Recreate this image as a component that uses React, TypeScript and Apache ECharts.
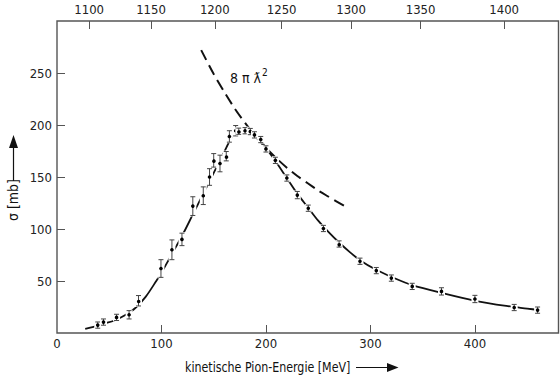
import React, { useEffect, useRef } from "react";
import * as echarts from "echarts";

// Measured cross-section data: kinetic pion energy [MeV], sigma [mb], error [mb]
const energies = [39, 44.5, 57, 69, 78, 99.5, 110, 119.6, 130, 140, 146, 150, 156, 162, 165, 171, 174, 180, 185, 189, 195, 200, 209, 220, 230, 240.5, 255, 270, 290, 305.6, 320, 340, 368, 400, 437.6, 460];
const sigmas = [7.6, 10.5, 15, 17.5, 31, 62, 80, 90, 122, 132, 150, 166, 163, 170, 189, 194.5, 194, 194.5, 193.7, 190.5, 186, 177, 166, 149, 132.6, 120, 100.5, 85.6, 69, 60, 52.8, 44.8, 40, 32.7, 24.5, 22];
const errors = [3, 3, 3, 4, 5, 8.5, 9.5, 6, 9, 8.5, 8, 6.5, 8, 4.5, 5.5, 5, 3, 3, 3, 3, 3, 3, 3, 3, 3.5, 3, 3, 3, 3, 3, 3, 3, 3.5, 3.5, 3, 3];

// Fitted curve (solid line)
const fitT = [27, 35, 45, 55, 65, 75, 85, 95, 100, 110, 120, 130, 140, 150, 160, 166, 170, 175, 182, 188, 195, 200, 210, 220, 230, 240, 250, 260, 270, 280, 290, 305, 320, 340, 370, 400, 430, 450, 462];
const fitS = [4, 6, 9, 12, 17, 24, 35, 50, 58, 76, 94, 114, 134, 154, 174, 186, 192, 195, 195, 192, 185, 178, 164, 149, 134, 121, 108, 97, 87, 78, 70, 61, 54, 46, 38, 31, 26, 23.5, 22];

// 8 pi lambda-bar^2 curve (dashed)
const limitT = [138, 150, 160, 170, 180, 190, 200, 210, 220, 230, 240, 250, 260, 277];
const limitS = [272, 249, 232, 216, 202, 189, 178, 168, 159, 151, 144, 137, 131, 121];

// Axis ticks
const xTicks = [0, 100, 200, 300, 400];
const yTicks = [50, 100, 150, 200, 250];
const topTickPos = [30.8, 90, 151, 215, 281.5, 348, 428];
const topTickLabels = ["1100", "1150", "1200", "1250", "1300", "1350", "1400"];

const FONT = "'Liberation Sans Narrow', 'DejaVu Sans Condensed', 'Open Sans', sans-serif";

export default function App() {
  const ref = useRef<HTMLDivElement>(null);

  useEffect(() => {
    if (!ref.current) return;
    const chart = echarts.init(ref.current, null, { renderer: "svg" });

    const errData = energies.map((t, i) => [t, sigmas[i], errors[i]]);
    const fitData = fitT.map((t, i) => [t, fitS[i]]);
    const limitData = limitT.map((t, i) => [t, limitS[i]]);

    const labelStyle = { color: "#222", fontSize: 13, fontFamily: FONT };

    chart.setOption({
      animation: false,
      backgroundColor: "#fff",
      grid: {
        left: 57,
        right: 1.5,
        top: 21,
        bottom: 43,
        show: true,
        borderColor: "#555",
        borderWidth: 1.4,
        backgroundColor: "transparent",
      },
      xAxis: [
        {
          type: "value",
          position: "bottom",
          min: 0,
          max: 480,
          axisLine: { show: false },
          splitLine: { show: false },
          axisTick: { inside: true, length: 8, lineStyle: { color: "#555" }, customValues: [100, 200, 300, 400] },
          axisLabel: { ...labelStyle, margin: 4, customValues: xTicks },
        },
        {
          type: "value",
          position: "top",
          min: 0,
          max: 480,
          axisLine: { show: false },
          splitLine: { show: false },
          axisTick: { inside: true, length: 8, lineStyle: { color: "#555" }, customValues: topTickPos },
          axisLabel: {
            ...labelStyle,
            margin: 5,
            customValues: topTickPos,
            formatter: (v: number) => {
              let best = 0;
              for (let i = 1; i < topTickPos.length; i++) {
                if (Math.abs(topTickPos[i] - v) < Math.abs(topTickPos[best] - v)) best = i;
              }
              return topTickLabels[best];
            },
          },
        },
      ],
      yAxis: [
        {
          type: "value",
          min: 0,
          max: 300,
          axisLine: { show: false },
          splitLine: { show: false },
          axisTick: { inside: true, length: 8, lineStyle: { color: "#555" }, customValues: yTicks },
          axisLabel: { ...labelStyle, margin: 5, customValues: yTicks },
        },
      ],
      series: [
        {
          type: "line",
          data: fitData,
          smooth: 0.3,
          symbol: "none",
          lineStyle: { color: "#111", width: 1.8 },
          z: 2,
        },
        {
          type: "line",
          data: limitData,
          smooth: 0.3,
          symbol: "none",
          lineStyle: { color: "#111", width: 2, type: [11, 6] },
          z: 2,
        },
        {
          type: "custom",
          data: errData,
          z: 5,
          renderItem: (params: any, api: any) => {
            const t = api.value(0);
            const s = api.value(1);
            const e = api.value(2);
            const c = api.coord([t, s]);
            const top = api.coord([t, s + e]);
            const bot = api.coord([t, s - e]);
            const hw = 2.5;
            const stroke = { stroke: "#444", lineWidth: 1 };
            return {
              type: "group",
              children: [
                { type: "rect", shape: { x: c[0] - 3.5, y: top[1] - 1, width: 7, height: bot[1] - top[1] + 2 }, style: { fill: "#fff" } },
                { type: "line", shape: { x1: c[0], y1: top[1], x2: c[0], y2: bot[1] }, style: stroke },
                { type: "line", shape: { x1: c[0] - hw, y1: top[1], x2: c[0] + hw, y2: top[1] }, style: stroke },
                { type: "line", shape: { x1: c[0] - hw, y1: bot[1], x2: c[0] + hw, y2: bot[1] }, style: stroke },
                { type: "circle", shape: { cx: c[0], cy: c[1], r: 1.8 }, style: { fill: "#000" } },
              ],
            };
          },
        },
      ],
      graphic: [
        {
          type: "text",
          x: 230,
          y: 78,
          style: { text: "8 π ƛ", fontSize: 14, fontFamily: FONT, fill: "#111", verticalAlign: "middle" },
        },
        {
          type: "text",
          x: 262,
          y: 72,
          style: { text: "2", fontSize: 10, fontFamily: FONT, fill: "#111", verticalAlign: "middle" },
        },
        {
          type: "text",
          x: 185,
          y: 367.5,
          scaleX: 0.88,
          style: { text: "kinetische Pion-Energie [MeV]", fontSize: 14, fontFamily: FONT, fill: "#111", verticalAlign: "middle" },
        },
        { type: "line", shape: { x1: 356, y1: 367.5, x2: 390, y2: 367.5 }, style: { stroke: "#111", lineWidth: 1.2 } },
        { type: "polygon", shape: { points: [[387, 363], [398.5, 367.5], [387, 372]] }, style: { fill: "#111" } },
        {
          type: "text",
          x: 13,
          y: 200,
          rotation: Math.PI / 2,
          style: { text: "σ [mb]", fontSize: 14, fontFamily: FONT, fill: "#111", align: "center", verticalAlign: "middle" },
        },
        { type: "line", shape: { x1: 13.5, y1: 181, x2: 13.5, y2: 146 }, style: { stroke: "#111", lineWidth: 1.2 } },
        { type: "polygon", shape: { points: [[9, 148], [13.5, 135], [18, 148]] }, style: { fill: "#111" } },
      ],
    });

    return () => chart.dispose();
  }, []);

  return (
    <div
      ref={ref}
      style={{ position: "fixed", left: 0, top: 0, width: 560, height: 376, background: "#fff" }}
    />
  );
}
